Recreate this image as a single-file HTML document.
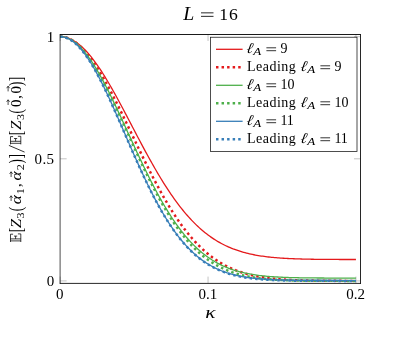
<!DOCTYPE html><html><head><meta charset="utf-8"><style>html,body{margin:0;padding:0;background:#fff}svg{display:block}text{font-family:"Liberation Serif",serif;fill:#000;filter:grayscale(1)}</style></head><body>
<svg width="416" height="341" viewBox="0 0 416 341">
<rect width="416" height="341" fill="#fff"/>
<path d="M60.15,283.10 v-6.5 M60.15,34.50 v6.5 M208.05,283.10 v-6.5 M208.05,34.50 v6.5 M355.95,283.10 v-6.5 M355.95,34.50 v6.5 M60.15,280.90 h6.5 M360.50,280.90 h-6.5 M60.15,158.80 h6.5 M360.50,158.80 h-6.5 M60.15,36.70 h6.5 M360.50,36.70 h-6.5" stroke="#888" stroke-width="0.5" fill="none"/>
<clipPath id="c"><rect x="60.15" y="34.50" width="300.35" height="248.60"/></clipPath>
<g clip-path="url(#c)" fill="none">
<path d="M60.15,36.70 L61.63,36.75 L63.11,36.89 L64.59,37.13 L66.07,37.47 L67.55,37.90 L69.02,38.43 L70.50,39.05 L71.98,39.76 L73.46,40.57 L74.94,41.46 L76.42,42.45 L77.90,43.53 L79.38,44.69 L80.86,45.94 L82.33,47.28 L83.81,48.69 L85.29,50.19 L86.77,51.77 L88.25,53.43 L89.73,55.16 L91.21,56.96 L92.69,58.84 L94.17,60.79 L95.65,62.80 L97.12,64.87 L98.60,67.01 L100.08,69.21 L101.56,71.47 L103.04,73.77 L104.52,76.14 L106.00,78.54 L107.48,81.00 L108.96,83.50 L110.44,86.04 L111.92,88.62 L113.39,91.24 L114.87,93.88 L116.35,96.56 L117.83,99.27 L119.31,101.99 L120.79,104.75 L122.27,107.51 L123.75,110.30 L125.23,113.10 L126.70,115.91 L128.18,118.73 L129.66,121.56 L131.14,124.38 L132.62,127.21 L134.10,130.04 L135.58,132.87 L137.06,135.68 L138.54,138.49 L140.02,141.29 L141.50,144.07 L142.97,146.84 L144.45,149.60 L145.93,152.33 L147.41,155.04 L148.89,157.73 L150.37,160.40 L151.85,163.04 L153.33,165.65 L154.81,168.23 L156.28,170.79 L157.76,173.31 L159.24,175.79 L160.72,178.24 L162.20,180.66 L163.68,183.04 L165.16,185.38 L166.64,187.68 L168.12,189.95 L169.60,192.17 L171.07,194.35 L172.55,196.49 L174.03,198.59 L175.51,200.65 L176.99,202.66 L178.47,204.63 L179.95,206.55 L181.43,208.44 L182.91,210.28 L184.39,212.07 L185.87,213.82 L187.34,215.53 L188.82,217.19 L190.30,218.81 L191.78,220.39 L193.26,221.92 L194.74,223.41 L196.22,224.86 L197.70,226.27 L199.18,227.63 L200.66,228.95 L202.13,230.23 L203.61,231.48 L205.09,232.68 L206.57,233.84 L208.05,234.97 L209.53,236.05 L211.01,237.10 L212.49,238.11 L213.97,239.09 L215.44,240.03 L216.92,240.94 L218.40,241.82 L219.88,242.66 L221.36,243.47 L222.84,244.25 L224.32,244.99 L225.80,245.71 L227.28,246.40 L228.76,247.06 L230.24,247.70 L231.71,248.30 L233.19,248.89 L234.67,249.44 L236.15,249.97 L237.63,250.48 L239.11,250.97 L240.59,251.43 L242.07,251.88 L243.55,252.30 L245.03,252.70 L246.50,253.08 L247.98,253.45 L249.46,253.80 L250.94,254.13 L252.42,254.44 L253.90,254.74 L255.38,255.02 L256.86,255.29 L258.34,255.55 L259.81,255.79 L261.29,256.02 L262.77,256.23 L264.25,256.44 L265.73,256.63 L267.21,256.81 L268.69,256.99 L270.17,257.15 L271.65,257.30 L273.13,257.45 L274.60,257.59 L276.08,257.71 L277.56,257.84 L279.04,257.95 L280.52,258.06 L282.00,258.16 L283.48,258.25 L284.96,258.34 L286.44,258.42 L287.92,258.50 L289.39,258.57 L290.87,258.64 L292.35,258.71 L293.83,258.77 L295.31,258.82 L296.79,258.87 L298.27,258.92 L299.75,258.97 L301.23,259.01 L302.71,259.05 L304.19,259.09 L305.66,259.12 L307.14,259.15 L308.62,259.18 L310.10,259.21 L311.58,259.23 L313.06,259.26 L314.54,259.28 L316.02,259.30 L317.50,259.32 L318.97,259.34 L320.45,259.35 L321.93,259.37 L323.41,259.38 L324.89,259.39 L326.37,259.41 L327.85,259.42 L329.33,259.43 L330.81,259.44 L332.29,259.44 L333.76,259.45 L335.24,259.46 L336.72,259.47 L338.20,259.47 L339.68,259.48 L341.16,259.48 L342.64,259.49 L344.12,259.49 L345.60,259.49 L347.08,259.50 L348.56,259.50 L350.03,259.50 L351.51,259.51 L352.99,259.51 L354.47,259.51 L355.95,259.51" stroke="#e41a1c" stroke-width="1.30"/>
<path d="M60.15,36.70 L61.63,36.75 L63.11,36.91 L64.59,37.17 L66.07,37.54 L67.55,38.02 L69.02,38.59 L70.50,39.27 L71.98,40.05 L73.46,40.94 L74.94,41.92 L76.42,43.00 L77.90,44.18 L79.38,45.46 L80.86,46.83 L82.33,48.29 L83.81,49.84 L85.29,51.49 L86.77,53.22 L88.25,55.03 L89.73,56.93 L91.21,58.91 L92.69,60.96 L94.17,63.10 L95.65,65.30 L97.12,67.58 L98.60,69.92 L100.08,72.33 L101.56,74.80 L103.04,77.33 L104.52,79.92 L106.00,82.56 L107.48,85.25 L108.96,87.99 L110.44,90.77 L111.92,93.60 L113.39,96.47 L114.87,99.37 L116.35,102.30 L117.83,105.26 L119.31,108.26 L120.79,111.27 L122.27,114.31 L123.75,117.36 L125.23,120.43 L126.70,123.51 L128.18,126.60 L129.66,129.69 L131.14,132.79 L132.62,135.89 L134.10,138.99 L135.58,142.09 L137.06,145.17 L138.54,148.25 L140.02,151.32 L141.50,154.37 L142.97,157.41 L144.45,160.42 L145.93,163.42 L147.41,166.39 L148.89,169.34 L150.37,172.26 L151.85,175.15 L153.33,178.02 L154.81,180.85 L156.28,183.64 L157.76,186.40 L159.24,189.13 L160.72,191.82 L162.20,194.46 L163.68,197.07 L165.16,199.64 L166.64,202.16 L168.12,204.64 L169.60,207.08 L171.07,209.47 L172.55,211.81 L174.03,214.11 L175.51,216.37 L176.99,218.57 L178.47,220.73 L179.95,222.84 L181.43,224.91 L182.91,226.92 L184.39,228.89 L185.87,230.81 L187.34,232.68 L188.82,234.50 L190.30,236.27 L191.78,238.00 L193.26,239.68 L194.74,241.32 L196.22,242.90 L197.70,244.44 L199.18,245.94 L200.66,247.39 L202.13,248.79 L203.61,250.15 L205.09,251.47 L206.57,252.74 L208.05,253.98 L209.53,255.17 L211.01,256.32 L212.49,257.43 L213.97,258.50 L215.44,259.53 L216.92,260.53 L218.40,261.49 L219.88,262.41 L221.36,263.30 L222.84,264.15 L224.32,264.97 L225.80,265.75 L227.28,266.51 L228.76,267.23 L230.24,267.93 L231.71,268.59 L233.19,269.23 L234.67,269.84 L236.15,270.43 L237.63,270.98 L239.11,271.52 L240.59,272.02 L242.07,272.51 L243.55,272.97 L245.03,273.41 L246.50,273.83 L247.98,274.23 L249.46,274.61 L250.94,274.98 L252.42,275.32 L253.90,275.65 L255.38,275.96 L256.86,276.25 L258.34,276.53 L259.81,276.80 L261.29,277.05 L262.77,277.28 L264.25,277.51 L265.73,277.72 L267.21,277.92 L268.69,278.11 L270.17,278.29 L271.65,278.46 L273.13,278.62 L274.60,278.77 L276.08,278.91 L277.56,279.04 L279.04,279.17 L280.52,279.28 L282.00,279.39 L283.48,279.50 L284.96,279.59 L286.44,279.68 L287.92,279.77 L289.39,279.85 L290.87,279.92 L292.35,279.99 L293.83,280.06 L295.31,280.12 L296.79,280.18 L298.27,280.23 L299.75,280.28 L301.23,280.33 L302.71,280.37 L304.19,280.41 L305.66,280.45 L307.14,280.48 L308.62,280.52 L310.10,280.55 L311.58,280.57 L313.06,280.60 L314.54,280.62 L316.02,280.65 L317.50,280.67 L318.97,280.69 L320.45,280.70 L321.93,280.72 L323.41,280.73 L324.89,280.75 L326.37,280.76 L327.85,280.77 L329.33,280.78 L330.81,280.79 L332.29,280.80 L333.76,280.81 L335.24,280.82 L336.72,280.83 L338.20,280.83 L339.68,280.84 L341.16,280.84 L342.64,280.85 L344.12,280.85 L345.60,280.86 L347.08,280.86 L348.56,280.87 L350.03,280.87 L351.51,280.87 L352.99,280.87 L354.47,280.88 L355.95,280.88" stroke="#e41a1c" stroke-width="2.47" stroke-dasharray="2.47 3.08"/>
<path d="M60.15,36.70 L61.63,36.76 L63.11,36.93 L64.59,37.22 L66.07,37.63 L67.55,38.14 L69.02,38.78 L70.50,39.52 L71.98,40.38 L73.46,41.35 L74.94,42.43 L76.42,43.61 L77.90,44.90 L79.38,46.30 L80.86,47.80 L82.33,49.40 L83.81,51.09 L85.29,52.88 L86.77,54.77 L88.25,56.75 L89.73,58.81 L91.21,60.96 L92.69,63.20 L94.17,65.51 L95.65,67.90 L97.12,70.36 L98.60,72.90 L100.08,75.50 L101.56,78.16 L103.04,80.89 L104.52,83.67 L106.00,86.51 L107.48,89.40 L108.96,92.33 L110.44,95.31 L111.92,98.32 L113.39,101.38 L114.87,104.46 L116.35,107.58 L117.83,110.72 L119.31,113.88 L120.79,117.07 L122.27,120.26 L123.75,123.47 L125.23,126.69 L126.70,129.92 L128.18,133.15 L129.66,136.38 L131.14,139.60 L132.62,142.82 L134.10,146.03 L135.58,149.22 L137.06,152.40 L138.54,155.57 L140.02,158.71 L141.50,161.83 L142.97,164.92 L144.45,167.99 L145.93,171.03 L147.41,174.04 L148.89,177.01 L150.37,179.95 L151.85,182.84 L153.33,185.70 L154.81,188.52 L156.28,191.30 L157.76,194.03 L159.24,196.72 L160.72,199.37 L162.20,201.96 L163.68,204.51 L165.16,207.01 L166.64,209.46 L168.12,211.85 L169.60,214.20 L171.07,216.50 L172.55,218.74 L174.03,220.93 L175.51,223.07 L176.99,225.15 L178.47,227.19 L179.95,229.17 L181.43,231.10 L182.91,232.97 L184.39,234.79 L185.87,236.57 L187.34,238.29 L188.82,239.95 L190.30,241.57 L191.78,243.14 L193.26,244.66 L194.74,246.13 L196.22,247.55 L197.70,248.92 L199.18,250.24 L200.66,251.52 L202.13,252.76 L203.61,253.95 L205.09,255.10 L206.57,256.20 L208.05,257.26 L209.53,258.28 L211.01,259.26 L212.49,260.21 L213.97,261.11 L215.44,261.98 L216.92,262.81 L218.40,263.61 L219.88,264.37 L221.36,265.10 L222.84,265.80 L224.32,266.46 L225.80,267.10 L227.28,267.71 L228.76,268.29 L230.24,268.84 L231.71,269.36 L233.19,269.87 L234.67,270.34 L236.15,270.79 L237.63,271.22 L239.11,271.63 L240.59,272.02 L242.07,272.39 L243.55,272.74 L245.03,273.07 L246.50,273.38 L247.98,273.68 L249.46,273.95 L250.94,274.22 L252.42,274.47 L253.90,274.70 L255.38,274.92 L256.86,275.13 L258.34,275.33 L259.81,275.52 L261.29,275.69 L262.77,275.85 L264.25,276.01 L265.73,276.15 L267.21,276.29 L268.69,276.41 L270.17,276.53 L271.65,276.64 L273.13,276.75 L274.60,276.85 L276.08,276.94 L277.56,277.02 L279.04,277.10 L280.52,277.18 L282.00,277.25 L283.48,277.31 L284.96,277.37 L286.44,277.43 L287.92,277.48 L289.39,277.53 L290.87,277.57 L292.35,277.61 L293.83,277.65 L295.31,277.69 L296.79,277.72 L298.27,277.75 L299.75,277.78 L301.23,277.80 L302.71,277.83 L304.19,277.85 L305.66,277.87 L307.14,277.89 L308.62,277.91 L310.10,277.92 L311.58,277.94 L313.06,277.95 L314.54,277.96 L316.02,277.97 L317.50,277.99 L318.97,277.99 L320.45,278.00 L321.93,278.01 L323.41,278.02 L324.89,278.03 L326.37,278.03 L327.85,278.04 L329.33,278.04 L330.81,278.05 L332.29,278.05 L333.76,278.06 L335.24,278.06 L336.72,278.06 L338.20,278.06 L339.68,278.07 L341.16,278.07 L342.64,278.07 L344.12,278.07 L345.60,278.08 L347.08,278.08 L348.56,278.08 L350.03,278.08 L351.51,278.08 L352.99,278.08 L354.47,278.08 L355.95,278.08" stroke="#4daf4a" stroke-width="1.30"/>
<path d="M60.15,36.70 L61.63,36.76 L63.11,36.93 L64.59,37.23 L66.07,37.64 L67.55,38.16 L69.02,38.80 L70.50,39.56 L71.98,40.42 L73.46,41.40 L74.94,42.49 L76.42,43.69 L77.90,45.00 L79.38,46.41 L80.86,47.93 L82.33,49.54 L83.81,51.26 L85.29,53.07 L86.77,54.98 L88.25,56.98 L89.73,59.07 L91.21,61.25 L92.69,63.51 L94.17,65.85 L95.65,68.26 L97.12,70.76 L98.60,73.32 L100.08,75.95 L101.56,78.65 L103.04,81.40 L104.52,84.22 L106.00,87.09 L107.48,90.01 L108.96,92.98 L110.44,95.99 L111.92,99.04 L113.39,102.13 L114.87,105.25 L116.35,108.40 L117.83,111.58 L119.31,114.78 L120.79,118.00 L122.27,121.24 L123.75,124.48 L125.23,127.74 L126.70,131.00 L128.18,134.27 L129.66,137.54 L131.14,140.80 L132.62,144.05 L134.10,147.30 L135.58,150.53 L137.06,153.75 L138.54,156.95 L140.02,160.13 L141.50,163.29 L142.97,166.42 L144.45,169.52 L145.93,172.59 L147.41,175.63 L148.89,178.64 L150.37,181.61 L151.85,184.54 L153.33,187.44 L154.81,190.29 L156.28,193.10 L157.76,195.87 L159.24,198.59 L160.72,201.26 L162.20,203.88 L163.68,206.46 L165.16,208.99 L166.64,211.47 L168.12,213.89 L169.60,216.27 L171.07,218.59 L172.55,220.86 L174.03,223.07 L175.51,225.24 L176.99,227.35 L178.47,229.40 L179.95,231.41 L181.43,233.36 L182.91,235.25 L184.39,237.10 L185.87,238.89 L187.34,240.63 L188.82,242.32 L190.30,243.95 L191.78,245.54 L193.26,247.08 L194.74,248.56 L196.22,250.00 L197.70,251.39 L199.18,252.73 L200.66,254.02 L202.13,255.27 L203.61,256.48 L205.09,257.64 L206.57,258.75 L208.05,259.83 L209.53,260.86 L211.01,261.85 L212.49,262.81 L213.97,263.72 L215.44,264.60 L216.92,265.44 L218.40,266.25 L219.88,267.02 L221.36,267.76 L222.84,268.46 L224.32,269.14 L225.80,269.78 L227.28,270.39 L228.76,270.98 L230.24,271.54 L231.71,272.07 L233.19,272.58 L234.67,273.06 L236.15,273.52 L237.63,273.95 L239.11,274.37 L240.59,274.76 L242.07,275.13 L243.55,275.48 L245.03,275.82 L246.50,276.13 L247.98,276.43 L249.46,276.71 L250.94,276.98 L252.42,277.23 L253.90,277.47 L255.38,277.70 L256.86,277.91 L258.34,278.11 L259.81,278.29 L261.29,278.47 L262.77,278.64 L264.25,278.79 L265.73,278.94 L267.21,279.07 L268.69,279.20 L270.17,279.32 L271.65,279.44 L273.13,279.54 L274.60,279.64 L276.08,279.73 L277.56,279.82 L279.04,279.90 L280.52,279.97 L282.00,280.04 L283.48,280.11 L284.96,280.17 L286.44,280.23 L287.92,280.28 L289.39,280.33 L290.87,280.37 L292.35,280.41 L293.83,280.45 L295.31,280.49 L296.79,280.52 L298.27,280.55 L299.75,280.58 L301.23,280.61 L302.71,280.63 L304.19,280.66 L305.66,280.68 L307.14,280.69 L308.62,280.71 L310.10,280.73 L311.58,280.74 L313.06,280.76 L314.54,280.77 L316.02,280.78 L317.50,280.79 L318.97,280.80 L320.45,280.81 L321.93,280.82 L323.41,280.83 L324.89,280.83 L326.37,280.84 L327.85,280.85 L329.33,280.85 L330.81,280.85 L332.29,280.86 L333.76,280.86 L335.24,280.87 L336.72,280.87 L338.20,280.87 L339.68,280.88 L341.16,280.88 L342.64,280.88 L344.12,280.88 L345.60,280.88 L347.08,280.89 L348.56,280.89 L350.03,280.89 L351.51,280.89 L352.99,280.89 L354.47,280.89 L355.95,280.89" stroke="#4daf4a" stroke-width="2.47" stroke-dasharray="2.47 3.08"/>
<path d="M60.15,36.70 L61.63,36.76 L63.11,36.96 L64.59,37.28 L66.07,37.73 L67.55,38.30 L69.02,39.01 L70.50,39.83 L71.98,40.79 L73.46,41.86 L74.94,43.05 L76.42,44.37 L77.90,45.80 L79.38,47.34 L80.86,49.00 L82.33,50.77 L83.81,52.64 L85.29,54.62 L86.77,56.70 L88.25,58.88 L89.73,61.16 L91.21,63.52 L92.69,65.98 L94.17,68.51 L95.65,71.14 L97.12,73.83 L98.60,76.60 L100.08,79.45 L101.56,82.35 L103.04,85.32 L104.52,88.35 L106.00,91.43 L107.48,94.57 L108.96,97.74 L110.44,100.96 L111.92,104.22 L113.39,107.51 L114.87,110.83 L116.35,114.18 L117.83,117.55 L119.31,120.93 L120.79,124.33 L122.27,127.74 L123.75,131.16 L125.23,134.58 L126.70,137.99 L128.18,141.40 L129.66,144.81 L131.14,148.20 L132.62,151.58 L134.10,154.94 L135.58,158.28 L137.06,161.59 L138.54,164.88 L140.02,168.14 L141.50,171.37 L142.97,174.56 L144.45,177.72 L145.93,180.83 L147.41,183.91 L148.89,186.94 L150.37,189.93 L151.85,192.87 L153.33,195.76 L154.81,198.60 L156.28,201.39 L157.76,204.13 L159.24,206.81 L160.72,209.44 L162.20,212.01 L163.68,214.53 L165.16,216.99 L166.64,219.40 L168.12,221.74 L169.60,224.03 L171.07,226.26 L172.55,228.43 L174.03,230.54 L175.51,232.59 L176.99,234.59 L178.47,236.53 L179.95,238.41 L181.43,240.23 L182.91,241.99 L184.39,243.70 L185.87,245.36 L187.34,246.96 L188.82,248.50 L190.30,249.99 L191.78,251.43 L193.26,252.82 L194.74,254.15 L196.22,255.44 L197.70,256.68 L199.18,257.87 L200.66,259.01 L202.13,260.11 L203.61,261.16 L205.09,262.17 L206.57,263.14 L208.05,264.06 L209.53,264.95 L211.01,265.80 L212.49,266.61 L213.97,267.38 L215.44,268.12 L216.92,268.82 L218.40,269.49 L219.88,270.13 L221.36,270.73 L222.84,271.31 L224.32,271.86 L225.80,272.38 L227.28,272.88 L228.76,273.34 L230.24,273.79 L231.71,274.21 L233.19,274.61 L234.67,274.98 L236.15,275.34 L237.63,275.67 L239.11,275.99 L240.59,276.29 L242.07,276.57 L243.55,276.84 L245.03,277.09 L246.50,277.32 L247.98,277.54 L249.46,277.75 L250.94,277.95 L252.42,278.13 L253.90,278.30 L255.38,278.46 L256.86,278.61 L258.34,278.75 L259.81,278.88 L261.29,279.00 L262.77,279.12 L264.25,279.22 L265.73,279.32 L267.21,279.42 L268.69,279.50 L270.17,279.58 L271.65,279.66 L273.13,279.73 L274.60,279.79 L276.08,279.85 L277.56,279.91 L279.04,279.96 L280.52,280.00 L282.00,280.05 L283.48,280.09 L284.96,280.13 L286.44,280.16 L287.92,280.19 L289.39,280.22 L290.87,280.25 L292.35,280.27 L293.83,280.30 L295.31,280.32 L296.79,280.34 L298.27,280.35 L299.75,280.37 L301.23,280.39 L302.71,280.40 L304.19,280.41 L305.66,280.42 L307.14,280.43 L308.62,280.44 L310.10,280.45 L311.58,280.46 L313.06,280.47 L314.54,280.47 L316.02,280.48 L317.50,280.48 L318.97,280.49 L320.45,280.49 L321.93,280.50 L323.41,280.50 L324.89,280.50 L326.37,280.51 L327.85,280.51 L329.33,280.51 L330.81,280.51 L332.29,280.52 L333.76,280.52 L335.24,280.52 L336.72,280.52 L338.20,280.52 L339.68,280.52 L341.16,280.53 L342.64,280.53 L344.12,280.53 L345.60,280.53 L347.08,280.53 L348.56,280.53 L350.03,280.53 L351.51,280.53 L352.99,280.53 L354.47,280.53 L355.95,280.53" stroke="#377eb8" stroke-width="1.30"/>
<path d="M60.15,36.70 L61.63,36.76 L63.11,36.96 L64.59,37.28 L66.07,37.73 L67.55,38.31 L69.02,39.01 L70.50,39.84 L71.98,40.79 L73.46,41.87 L74.94,43.06 L76.42,44.38 L77.90,45.81 L79.38,47.36 L80.86,49.02 L82.33,50.79 L83.81,52.67 L85.29,54.65 L86.77,56.73 L88.25,58.91 L89.73,61.19 L91.21,63.56 L92.69,66.02 L94.17,68.56 L95.65,71.19 L97.12,73.89 L98.60,76.66 L100.08,79.51 L101.56,82.42 L103.04,85.40 L104.52,88.43 L106.00,91.52 L107.48,94.65 L108.96,97.84 L110.44,101.06 L111.92,104.32 L113.39,107.62 L114.87,110.94 L116.35,114.30 L117.83,117.67 L119.31,121.06 L120.79,124.46 L122.27,127.88 L123.75,131.30 L125.23,134.72 L126.70,138.14 L128.18,141.56 L129.66,144.97 L131.14,148.37 L132.62,151.75 L134.10,155.12 L135.58,158.46 L137.06,161.78 L138.54,165.08 L140.02,168.34 L141.50,171.57 L142.97,174.77 L144.45,177.93 L145.93,181.05 L147.41,184.13 L148.89,187.17 L150.37,190.16 L151.85,193.10 L153.33,196.00 L154.81,198.84 L156.28,201.64 L157.76,204.38 L159.24,207.07 L160.72,209.70 L162.20,212.28 L163.68,214.80 L165.16,217.26 L166.64,219.67 L168.12,222.02 L169.60,224.31 L171.07,226.54 L172.55,228.72 L174.03,230.83 L175.51,232.89 L176.99,234.89 L178.47,236.83 L179.95,238.71 L181.43,240.53 L182.91,242.30 L184.39,244.01 L185.87,245.67 L187.34,247.27 L188.82,248.82 L190.30,250.31 L191.78,251.75 L193.26,253.14 L194.74,254.48 L196.22,255.77 L197.70,257.01 L199.18,258.20 L200.66,259.35 L202.13,260.44 L203.61,261.50 L205.09,262.51 L206.57,263.48 L208.05,264.41 L209.53,265.29 L211.01,266.14 L212.49,266.95 L213.97,267.73 L215.44,268.46 L216.92,269.17 L218.40,269.84 L219.88,270.48 L221.36,271.09 L222.84,271.66 L224.32,272.21 L225.80,272.74 L227.28,273.23 L228.76,273.70 L230.24,274.14 L231.71,274.57 L233.19,274.96 L234.67,275.34 L236.15,275.70 L237.63,276.03 L239.11,276.35 L240.59,276.65 L242.07,276.93 L243.55,277.20 L245.03,277.45 L246.50,277.68 L247.98,277.91 L249.46,278.11 L250.94,278.31 L252.42,278.49 L253.90,278.66 L255.38,278.82 L256.86,278.97 L258.34,279.11 L259.81,279.24 L261.29,279.37 L262.77,279.48 L264.25,279.59 L265.73,279.69 L267.21,279.78 L268.69,279.87 L270.17,279.95 L271.65,280.02 L273.13,280.09 L274.60,280.16 L276.08,280.22 L277.56,280.27 L279.04,280.32 L280.52,280.37 L282.00,280.41 L283.48,280.45 L284.96,280.49 L286.44,280.53 L287.92,280.56 L289.39,280.59 L290.87,280.61 L292.35,280.64 L293.83,280.66 L295.31,280.68 L296.79,280.70 L298.27,280.72 L299.75,280.74 L301.23,280.75 L302.71,280.76 L304.19,280.78 L305.66,280.79 L307.14,280.80 L308.62,280.81 L310.10,280.82 L311.58,280.83 L313.06,280.83 L314.54,280.84 L316.02,280.84 L317.50,280.85 L318.97,280.86 L320.45,280.86 L321.93,280.86 L323.41,280.87 L324.89,280.87 L326.37,280.87 L327.85,280.88 L329.33,280.88 L330.81,280.88 L332.29,280.88 L333.76,280.88 L335.24,280.89 L336.72,280.89 L338.20,280.89 L339.68,280.89 L341.16,280.89 L342.64,280.89 L344.12,280.89 L345.60,280.89 L347.08,280.89 L348.56,280.90 L350.03,280.90 L351.51,280.90 L352.99,280.90 L354.47,280.90 L355.95,280.90" stroke="#377eb8" stroke-width="2.47" stroke-dasharray="2.47 3.08"/>
</g>
<path d="M59.80,34.50 H360.92" stroke="#000" stroke-width="0.9" fill="none"/>
<path d="M360.50,34.50 V283.80" stroke="#000" stroke-width="0.85" fill="none"/>
<path d="M59.80,283.4 H360.92" stroke="#000" stroke-width="0.85" fill="none"/>
<path d="M60.10,34.50 V283.80" stroke="#000" stroke-width="0.7" fill="none"/>
<rect x="210.50" y="37.25" width="146.50" height="114.20" fill="#fff" stroke="#222" stroke-width="0.8"/>
<path d="M216,49.30 H242.6" stroke="#e41a1c" stroke-width="1.30" fill="none"/>
<text transform="translate(246.10,52.90) skewX(-10)" font-size="15.0" font-style="italic">&#8467;</text><text transform="translate(253.30,54.70) scale(1.25,1)" font-size="10.4" font-style="italic">A</text><path d="M266.40,47.80 H276.10 M266.40,50.70 H276.10" stroke="#000" stroke-width="0.80" fill="none"/><text x="280.40" y="52.90" font-size="14.0">9</text>
<path d="M216,67.30 H242.3" stroke="#e41a1c" stroke-width="2.47" stroke-dasharray="2.47 3.08" fill="none"/>
<text x="247.1" y="70.90" font-size="14" textLength="48.6" lengthAdjust="spacing">Leading</text>
<text transform="translate(300.10,70.90) skewX(-10)" font-size="15.0" font-style="italic">&#8467;</text><text transform="translate(307.30,72.70) scale(1.25,1)" font-size="10.4" font-style="italic">A</text><path d="M320.40,65.80 H330.10 M320.40,68.70 H330.10" stroke="#000" stroke-width="0.80" fill="none"/><text x="334.40" y="70.90" font-size="14.0">9</text>
<path d="M216,85.30 H242.6" stroke="#4daf4a" stroke-width="1.30" fill="none"/>
<text transform="translate(246.10,88.90) skewX(-10)" font-size="15.0" font-style="italic">&#8467;</text><text transform="translate(253.30,90.70) scale(1.25,1)" font-size="10.4" font-style="italic">A</text><path d="M266.40,83.80 H276.10 M266.40,86.70 H276.10" stroke="#000" stroke-width="0.80" fill="none"/><text x="280.40" y="88.90" font-size="14.0">10</text>
<path d="M216,103.30 H242.3" stroke="#4daf4a" stroke-width="2.47" stroke-dasharray="2.47 3.08" fill="none"/>
<text x="247.1" y="106.90" font-size="14" textLength="48.6" lengthAdjust="spacing">Leading</text>
<text transform="translate(300.10,106.90) skewX(-10)" font-size="15.0" font-style="italic">&#8467;</text><text transform="translate(307.30,108.70) scale(1.25,1)" font-size="10.4" font-style="italic">A</text><path d="M320.40,101.80 H330.10 M320.40,104.70 H330.10" stroke="#000" stroke-width="0.80" fill="none"/><text x="334.40" y="106.90" font-size="14.0">10</text>
<path d="M216,121.30 H242.6" stroke="#377eb8" stroke-width="1.30" fill="none"/>
<text transform="translate(246.10,124.90) skewX(-10)" font-size="15.0" font-style="italic">&#8467;</text><text transform="translate(253.30,126.70) scale(1.25,1)" font-size="10.4" font-style="italic">A</text><path d="M266.40,119.80 H276.10 M266.40,122.70 H276.10" stroke="#000" stroke-width="0.80" fill="none"/><text x="280.40" y="124.90" font-size="14.0">11</text>
<path d="M216,139.30 H242.3" stroke="#377eb8" stroke-width="2.47" stroke-dasharray="2.47 3.08" fill="none"/>
<text x="247.1" y="142.90" font-size="14" textLength="48.6" lengthAdjust="spacing">Leading</text>
<text transform="translate(300.10,142.90) skewX(-10)" font-size="15.0" font-style="italic">&#8467;</text><text transform="translate(307.30,144.70) scale(1.25,1)" font-size="10.4" font-style="italic">A</text><path d="M320.40,137.80 H330.10 M320.40,140.70 H330.10" stroke="#000" stroke-width="0.80" fill="none"/><text x="334.40" y="142.90" font-size="14.0">11</text>
<text transform="translate(183.3,19.6) scale(1.1,1)" font-size="18" font-style="italic">L</text>
<path d="M201.00,12.85 H213.50 M201.00,16.35 H213.50" stroke="#000" stroke-width="0.85" fill="none"/>
<text x="219.3" y="19.6" font-size="17.6" letter-spacing="0.9">16</text>
<text x="54.2" y="41.5" font-size="15" text-anchor="end">1</text>
<text x="54.4" y="164.4" font-size="15" text-anchor="end" letter-spacing="0.35">0.5</text>
<text x="54.2" y="286.0" font-size="15" text-anchor="end">0</text>
<text x="59.85" y="299" font-size="15" text-anchor="middle">0</text>
<text x="207.75" y="299" font-size="15" text-anchor="middle">0.1</text>
<text x="355.65" y="299" font-size="15" text-anchor="middle">0.2</text>
<text transform="translate(210.5,317.8) scale(1.22,1)" font-size="17.5" font-style="italic" text-anchor="middle">&#954;</text>
<g transform="translate(20.8,242.6) rotate(-90)"><path transform="translate(0.40,0)" d="M0.2,0 H8.3 V-2.9 M0.2,-10.3 H8.0 V-7.7 M3.3,-5.2 H6.1 M6.1,-6.8 V-3.6 M1.3,0 V-10.3 M3.3,0 V-10.3" stroke="#000" stroke-width="0.75" fill="none"/><text transform="translate(10.40,0.90) scale(0.880,1.240)" font-size="15.0">[</text><text transform="translate(14.60,0.00) scale(1.080,1.000)" font-size="15.0" font-style="italic">Z</text><text transform="translate(24.20,2.90) scale(1.080,1.000)" font-size="11.3">3</text><text transform="translate(31.30,0.90) scale(0.880,1.240)" font-size="15.0">(</text><text transform="translate(38.30,0.00) scale(1.160,1.000)" font-size="15.0" font-style="italic">&#945;</text><path d="M41.60,-9.70 H46.80 M44.80,-11.20 l2.0,1.5 l-2.0,1.5" stroke="#000" stroke-width="0.7" fill="none"/><text transform="translate(48.40,2.90) scale(1.080,1.000)" font-size="11.3">1</text><text transform="translate(55.50,0.00) scale(1.000,1.000)" font-size="15.0">,</text><text transform="translate(62.20,0.00) scale(1.160,1.000)" font-size="15.0" font-style="italic">&#945;</text><path d="M65.60,-9.70 H70.80 M68.80,-11.20 l2.0,1.5 l-2.0,1.5" stroke="#000" stroke-width="0.7" fill="none"/><text transform="translate(72.30,2.90) scale(1.080,1.000)" font-size="11.3">2</text><text transform="translate(79.00,0.90) scale(0.880,1.240)" font-size="15.0">)</text><text transform="translate(84.00,0.90) scale(0.880,1.240)" font-size="15.0">]</text><path d="M90.5,3.8 L97.2,-11.9" stroke="#000" stroke-width="0.8" fill="none"/><path transform="translate(98.00,0)" d="M0.2,0 H8.3 V-2.9 M0.2,-10.3 H8.0 V-7.7 M3.3,-5.2 H6.1 M6.1,-6.8 V-3.6 M1.3,0 V-10.3 M3.3,0 V-10.3" stroke="#000" stroke-width="0.75" fill="none"/><text transform="translate(107.40,0.90) scale(0.880,1.240)" font-size="15.0">[</text><text transform="translate(112.90,0.00) scale(1.080,1.000)" font-size="15.0" font-style="italic">Z</text><text transform="translate(122.60,2.90) scale(1.080,1.000)" font-size="11.3">3</text><text transform="translate(129.00,0.90) scale(0.880,1.240)" font-size="15.0">(</text><text transform="translate(135.60,0.00) scale(1.000,1.000)" font-size="15.0">0</text><path d="M137.60,-12.70 H142.80 M140.80,-14.20 l2.0,1.5 l-2.0,1.5" stroke="#000" stroke-width="0.7" fill="none"/><text transform="translate(143.80,0.00) scale(1.000,1.000)" font-size="15.0">,</text><text transform="translate(149.20,0.00) scale(1.000,1.000)" font-size="15.0">0</text><path d="M151.20,-12.70 H156.40 M154.40,-14.20 l2.0,1.5 l-2.0,1.5" stroke="#000" stroke-width="0.7" fill="none"/><text transform="translate(156.60,0.90) scale(0.880,1.240)" font-size="15.0">)</text><text transform="translate(161.40,0.90) scale(0.880,1.240)" font-size="15.0">]</text></g>
</svg></body></html>
